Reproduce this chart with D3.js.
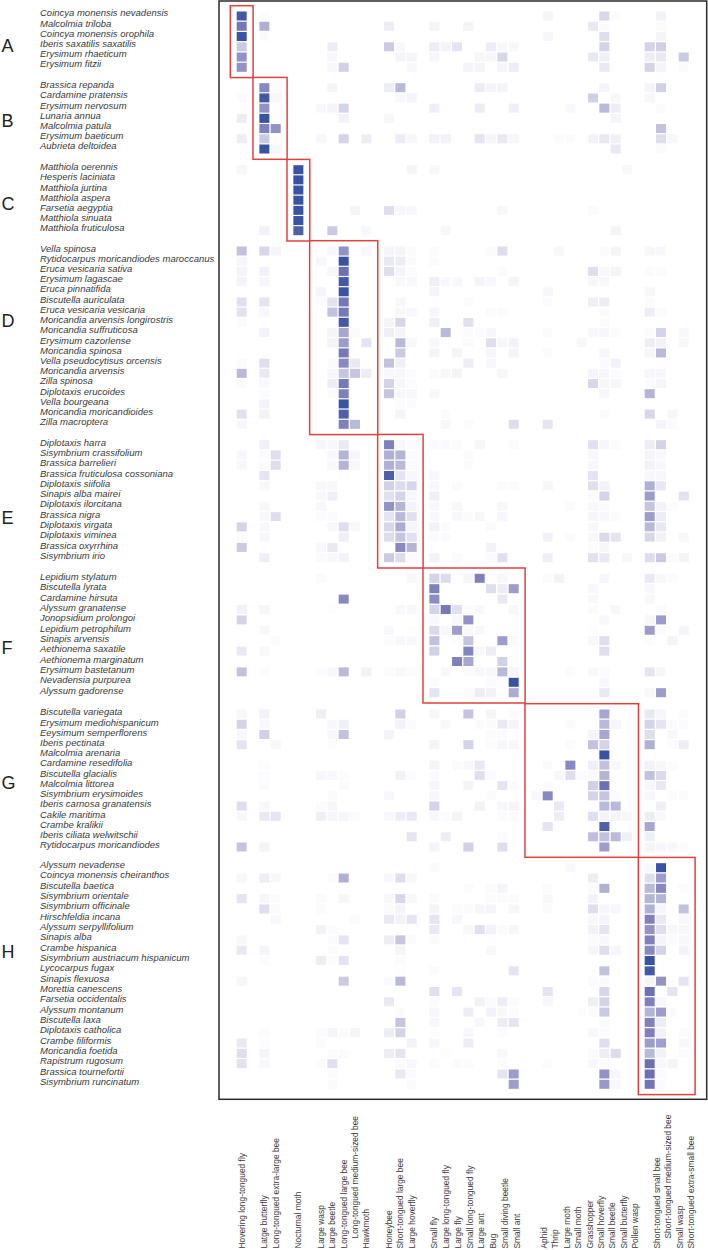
<!DOCTYPE html>
<html><head><meta charset="utf-8">
<script src="https://cdnjs.cloudflare.com/ajax/libs/d3/7.8.5/d3.min.js"></script>
<style>html,body{margin:0;padding:0;background:#fff}svg{display:block}text{font-family:"Liberation Sans",Arial,sans-serif}</style>
</head><body><div id="c"></div>
<script>
const pollinators = ["Hovering long-tongued fly","Latge butterfly","Long-tongued extra-large bee","Nocturnal moth","Large wasp","Large beetle","Long-tongued large bee","Long-tongued medium-sized bee","Hawkmoth","Honeybee","Short-tongued large bee","Large hoverfly","Small fly","Large long-tongued fly","Large fly","Small long-tongued fly","Large ant","Bug","Small diving beetle","Small ant","Aphid","Thrip","Large moth","Small moth","Grasshopper","Small hoverfly","Small beetle","Small butterfly","Pollen wasp","Short-tongued small bee","Short-tongued medium-sized bee","Small wasp","Short-tongued extra-small bee"];
const groupNames = ["A","B","C","D","E","F","G","H"];
const groupColumns = [[0,0],[1,2],[3,3],[4,8],[9,11],[12,19],[20,28],[29,32]];
const speciesA = ["Coincya monensis nevadensis","Malcolmia triloba","Coincya monensis orophila","Iberis saxatilis saxatilis","Erysimum rhaeticum","Erysimum fitzii"];
const speciesB = ["Brassica repanda","Cardamine pratensis","Erysimum nervosum","Lunaria annua","Malcolmia patula","Erysimum baeticum","Aubrieta deltoidea"];
const speciesC = ["Matthiola oerennis","Hesperis laciniata","Matthiola jurtina","Matthiola aspera","Farsetia aegyptia","Matthiola sinuata","Matthiola fruticulosa"];
const speciesD = ["Vella spinosa","Rytidocarpus moricandiodes maroccanus","Eruca vesicaria sativa","Erysimum lagascae","Eruca pinnatifida","Biscutella auriculata","Eruca vesicaria vesicaria","Moricandia arvensis longirostris","Moricandia suffruticosa","Erysimum cazorlense","Moricandia spinosa","Vella pseudocytisus orcensis","Moricandia arvensis","Zilla spinosa","Diplotaxis erucoides","Vella bourgeana","Moricandia moricandioides","Zilla macroptera"];
const speciesE = ["Diplotaxis harra","Sisymbrium crassifolium","Brassica barrelieri","Brassica fruticulosa cossoniana","Diplotaxis siifolia","Sinapis alba mairei","Diplotaxis ilorcitana","Brassica nigra","Diplotaxis virgata","Diplotaxis viminea","Brassica oxyrrhina","Sisymbrium irio"];
const speciesF = ["Lepidium stylatum","Biscutella lyrata","Cardamine hirsuta","Alyssum granatense","Jonopsidium prolongoi","Lepidium petrophilum","Sinapis arvensis","Aethionema saxatile","Aethionema marginatum","Erysimum bastetanum","Nevadensia purpurea","Alyssum gadorense"];
const speciesG = ["Biscutella variegata","Erysimum mediohispanicum","Eeysimum semperflorens","Iberis pectinata","Malcolmia arenaria","Cardamine resedifolia","Biscutella glacialis","Malcolmia littorea","Sisymbrium erysimoides","Iberis carnosa granatensis","Cakile maritima","Crambe kralikii","Iberis ciliata welwitschii","Rytidocarpus moricandiodes"];
const speciesH = ["Alyssum nevadense","Coincya monensis cheiranthos","Biscutella baetica","Sisymbrium orientale","Sisymbrium officinale","Hirschfeldia incana","Alyssum serpyllifolium","Sinapis alba","Crambe hispanica","Sisymbrium austriacum hispanicum","Lycocarpus fugax","Sinapis flexuosa","Morettia canescens","Farsetia occidentalis","Alyssum montanum","Biscutella laxa","Diplotaxis catholica","Crambe filiformis","Moricandia foetida","Rapistrum rugosum","Brassica tournefortii","Sisymbrium runcinatum"];
// visit frequency (percent of colour ramp): {column index: value}
const valuesA = [
{0:95,1:2,21:4,26:18,27:2,30:6},
{0:70,1:40,9:8,12:5,15:5,25:10,26:2,30:2},
{0:100,1:2,21:4,26:15,30:5},
{0:25,5:8,9:25,10:3,12:8,13:5,14:12,17:8,18:3,19:3,26:20,29:20,30:22},
{0:55,5:3,10:5,11:5,12:4,16:4,17:4,18:18,25:10,26:7,29:8,30:10,32:25},
{0:55,5:3,6:22,11:3,15:5,16:5,18:5,19:8,26:10,29:20,30:5,32:2}];
const valuesB = [
{1:60,5:5,9:8,10:35,16:8,17:5,18:5,26:5,29:5,30:22},
{0:2,1:95,2:4,10:3,11:5,25:22,27:3,29:4},
{1:55,4:3,5:5,6:20,12:7,16:8,19:7,23:3,26:35,27:8,30:2},
{0:8,1:100,6:6,9:4,27:5},
{1:65,2:55,30:30},
{0:8,1:25,4:3,6:20,8:8,10:8,11:4,12:6,13:6,16:12,17:5,18:10,19:4,22:2,23:2,25:6,26:10,27:7,30:15,31:3},
{1:100,2:3,27:10,30:2}];
const valuesC = [
{0:4,3:100,11:5,12:3,28:3},
{3:100},
{3:100},
{3:100},
{3:100,7:5,9:15,10:4,11:3,18:3,25:2},
{3:100},
{1:6,3:90,5:25,8:3,13:3,27:5}];
const valuesD = [
{0:30,1:18,2:5,5:3,6:55,8:3,9:5,10:5,11:2,12:2,17:2,18:15,22:3,26:2,27:5,29:4,30:3},
{0:4,4:3,6:100,9:10,10:8,11:2,12:2},
{0:5,1:6,5:4,6:75,9:15,10:5,11:2,18:2,25:15,26:3,27:5,29:2,30:2},
{0:5,1:4,6:95,10:3,11:3,12:7,13:3,14:3,16:5,17:3,19:5,25:3,26:3},
{4:5,6:100,12:5,21:4,29:4},
{0:14,1:12,4:2,5:13,6:70,10:3,15:2,21:2,25:7,26:8,29:2},
{0:13,1:3,5:30,6:70,10:3,11:3,12:4,17:2,18:2,26:2,29:8,30:2},
{0:2,6:95,9:5,10:18,12:7,15:14,26:2},
{1:6,5:5,6:45,7:2,9:7,10:5,13:35,15:2,16:2,17:4,21:2,25:3,26:4,27:2,29:2,30:20,32:3},
{5:5,6:50,8:12,10:35,11:3,12:3,15:2,17:15,18:4,19:6,24:3,29:8,30:6,32:3},
{6:70,10:25,12:5,14:5,17:4,19:5,21:2,26:4,29:4,30:35},
{0:2,1:15,5:2,6:60,7:10,9:30,10:7,15:8,17:3,26:2,27:6},
{0:35,1:10,5:4,6:28,7:28,8:8,9:3,10:3,11:2,12:2,13:3,14:5,18:4,25:5,26:4,27:2,29:4,30:4},
{0:2,1:3,5:8,6:70,9:20,10:4,11:2,25:18,26:4,27:4,29:2,30:5},
{1:2,5:2,6:65,9:28,10:3,11:3,12:3,26:4,29:38},
{1:6,6:100,10:2,11:2},
{0:14,1:6,6:88,10:5,13:2,26:2,29:18,31:4},
{0:3,6:65,7:35,13:3,15:2,19:15,21:12,30:5,31:2}];
const valuesE = [
{1:7,4:4,5:3,6:10,9:65,10:3,11:2,12:2,13:2,14:2,16:4,19:2,25:14,26:4,27:2,29:8,30:20},
{0:3,1:2,2:15,5:3,6:38,7:4,9:40,10:38,11:2,15:2,25:3,29:5,30:3},
{0:3,1:2,2:15,5:3,6:38,7:3,9:40,10:35,11:2,15:2,25:3,29:6,30:3},
{1:12,6:1,9:90,10:12,11:3,12:3,25:12,29:3,30:3},
{1:3,4:3,5:3,9:22,10:16,11:18,12:3,14:2,18:2,19:2,21:4,25:14,26:6,29:40,30:10},
{4:3,5:7,9:14,10:20,11:4,12:7,25:2,26:20,29:50,32:13},
{1:3,4:3,9:55,10:38,11:6,12:3,14:3,18:3,23:2,25:3,26:2,29:28,30:6,31:2},
{1:3,2:15,4:2,5:2,9:12,10:35,11:14,12:3,14:3,15:2,16:3,18:4,25:4,26:3,27:2,29:50,30:8},
{0:20,1:3,5:3,6:15,7:3,9:18,10:42,11:5,12:6,13:2,17:2,25:3,29:35,30:10},
{0:2,1:4,6:7,9:16,10:28,11:14,12:2,13:2,21:6,23:2,25:3,26:17,27:12,29:18,30:6,32:3},
{0:25,4:3,5:10,10:60,11:38,17:6,25:2,26:4},
{1:7,4:2,5:3,6:6,9:25,10:16,11:2,12:6,14:2,17:2,18:14,21:7,25:14,26:10,28:3,29:15,30:25,31:2,32:5}];
const valuesF = [
{4:2,11:3,12:20,13:16,15:4,16:65,18:3,21:2,22:6,26:4,29:10,30:3,31:2},
{12:65,17:15,18:8,19:50,25:3,29:3},
{6:60,12:58,18:10,25:3,29:3},
{0:6,1:4,5:1,10:3,11:4,12:20,13:70,14:14,15:2,16:3,19:3,25:2,27:3,30:2},
{0:20,12:3,14:3,15:55,26:3,29:4,30:50},
{1:3,9:3,11:1,12:17,13:3,14:50,15:3,16:3,25:1,29:50,30:2,32:5},
{2:2,9:2,10:3,11:3,12:30,14:2,15:28,18:50,19:2,25:3,26:15,29:2,31:5},
{0:10,1:3,12:22,15:62,16:3,17:8,26:15},
{14:65,15:45,18:22},
{0:30,1:2,4:2,5:3,6:35,8:6,9:2,10:4,11:2,13:3,15:2,16:3,17:3,18:35,19:4,23:2,25:3,26:2,29:12,30:4},
{12:2,17:2,19:100,26:3},
{12:12,15:2,16:8,17:6,19:42,26:10,29:3,30:50}];
const valuesG = [
{0:3,1:6,4:7,10:22,12:4,15:28,17:5,19:2,26:45,29:10,30:4,32:2},
{0:20,1:3,5:3,6:7,10:6,11:2,13:3,16:2,17:2,18:10,19:5,23:2,26:35,27:4,29:20,30:12,31:2,32:2},
{0:3,1:22,5:3,6:30,9:5,17:2,18:2,25:5,26:45,29:15,31:3},
{0:12,2:3,5:2,12:5,15:20,17:2,18:3,19:3,23:2,25:30,26:20,29:40,31:2,32:8},
{26:100},
{1:2,12:5,14:2,15:3,16:10,21:2,23:60,25:7,26:30,27:3,29:6,30:4,31:2},
{1:2,4:3,5:3,6:2,10:6,11:2,12:2,16:14,17:2,22:3,23:15,24:2,25:2,26:38,29:30,30:17},
{1:2,6:2,12:4,15:5,18:12,19:2,21:2,25:22,26:75,29:4,30:10},
{5:2,9:3,12:4,17:2,20:3,21:60,25:20,26:28,27:2,29:4,31:2,32:2},
{0:15,1:3,4:2,5:4,12:20,16:6,18:4,19:5,22:10,26:35,27:35,30:7},
{0:3,1:10,2:12,4:7,5:4,6:4,7:2,9:3,10:8,11:10,12:3,13:2,14:5,18:2,19:2,22:8,25:15,26:5,27:5,28:3,29:8,30:3},
{21:12,26:90,29:45},
{11:12,13:8,18:2,25:32,26:30,27:35,28:7,29:7},
{0:28,1:5,12:5,15:22,18:15,26:50,29:5,30:4,31:3,32:2}];
const valuesH = [
{12:2,23:3,29:3,30:100},
{0:3,1:8,2:3,5:2,6:40,9:3,10:15,11:3,25:8,29:15,30:50},
{15:2,17:2,18:5,21:2,25:2,26:40,29:35,30:60,32:2},
{0:12,1:4,2:2,4:2,6:4,9:3,10:18,11:3,12:2,17:2,18:2,19:2,21:3,25:6,29:38,30:38},
{1:15,2:2,4:2,9:2,10:5,12:5,14:2,15:2,16:4,17:5,19:4,21:2,25:15,26:4,27:3,29:40,30:4,32:30},
{2:3,7:2,9:10,10:6,11:12,12:12,14:4,25:3,26:5,29:65,30:10,32:3},
{4:6,5:2,12:10,15:3,16:14,17:6,18:2,19:4,25:6,26:12,29:55,30:15,31:3,32:3},
{0:3,5:2,6:12,9:8,10:28,11:2,12:2,25:2,26:3,29:65,30:5,31:2,32:3},
{0:10,1:5,5:2,10:5,17:3,25:4,26:15,27:4,29:60,30:20,32:6},
{1:2,4:8,5:2,6:12,10:2,29:100},
{10:1,12:2,19:12,26:30,29:95},
{0:4,6:25,9:2,10:35,25:2,26:2,29:5,30:55,32:12},
{12:14,14:12,21:12,26:18,29:75,31:12},
{9:10,12:2,16:6,17:2,18:8,19:2,21:4,25:7,26:20,29:65,30:3},
{10:2,12:4,15:8,17:6,18:3,19:2,24:1,25:2,26:25,29:38,30:50,31:2},
{10:28,12:3,16:3,18:8,19:12,26:2,29:65,30:8},
{1:2,4:2,5:5,6:2,7:5,9:8,10:20,12:1,15:3,18:2,25:3,26:2,29:65,30:6,32:2},
{0:10,1:2,4:2,11:6,12:4,15:8,26:15,29:50,30:48,32:3},
{0:15,1:5,5:2,6:2,9:8,10:12,13:1,18:3,25:2,26:8,27:16,29:35,30:6,32:2},
{0:13,1:3,4:2,5:14,10:2,11:3,12:2,14:2,15:2,18:2,21:2,25:3,26:2,29:75,30:3,31:5},
{5:2,10:10,11:2,18:12,19:50,26:55,27:3,29:75,30:2},
{5:2,11:2,19:50,26:52,27:3,29:72,30:2}];

const species=[speciesA,speciesB,speciesC,speciesD,speciesE,speciesF,speciesG,speciesH];
const values=[valuesA,valuesB,valuesC,valuesD,valuesE,valuesF,valuesG,valuesH];

// layout
const W=708,H=1250;
const firstRowY=[16,87.7,169.7,251,444.7,578.3,714,867.7], lastRowY=[67.3,149,230.7,424.3,557.7,692.7,847,1084.3];
const labelFirstY=[13,84.8,166.8,248.3,442.5,576.8,712,864.8], labelLastY=[64,146,228,422,555.5,690.5,845,1081.8];
const letterY=[46,121,204,321,518,648,783,952];
// column slots: gaps separate the pollinator functional groups
const slots=[0,2,3,5,7,8,9,10,11,13,14,15,17,18,19,20,21,22,23,24,26,27,28,29,30,31,32,33,34,36,37,38,39];
const x=d3.scaleLinear().domain([0,39]).range([241.7,683.7]);
const labelX=d3.scaleLinear().domain([0,17,24,26,34,36,39]).range([241.7,434.3,516.7,544,635,656.7,691]);
const color=d3.scaleLinear().domain([0,8,20,40,60,80,100]).range(["#ffffff","#ededf6","#d3d3e9","#b0b0d7","#8888c2","#6269b2","#3953a4"]);
const cw=10,ch=9,padX=11.4,padY=10.3;

const svg=d3.select("#c").append("svg").attr("width",W).attr("height",H);
// frame
svg.append("rect").attr("x",219).attr("y",1).attr("width",487.7).attr("height",1098.3).attr("fill","#fff").attr("stroke","#2a2a2a").attr("stroke-width",1.5);

species.forEach((names,g)=>{
  const y=d3.scalePoint().domain(d3.range(names.length)).range([firstRowY[g],lastRowY[g]]);
  const ly=d3.scalePoint().domain(d3.range(names.length)).range([labelFirstY[g],labelLastY[g]]);
  const cells=values[g].flatMap((row,r)=>Object.entries(row).map(([c,v])=>({r,c:+c,v})));
  svg.append("g").selectAll("rect").data(cells).join("rect")
    .attr("x",d=>x(slots[d.c])-cw/2).attr("y",d=>y(d.r)-ch/2)
    .attr("width",cw).attr("height",ch).attr("fill",d=>color(d.v));
  svg.append("g").selectAll("text").data(names).join("text")
    .attr("x",40).attr("y",(d,i)=>ly(i)).attr("dy","0.35em")
    .attr("font-size",9.5).attr("font-style","italic").attr("fill","#3a3a3a").text(d=>d);
  svg.append("text").attr("x",1.5).attr("y",letterY[g]).attr("dy","0.36em")
    .attr("font-size",18).attr("fill","#222").text(groupNames[g]);
});
// cluster outlines
groupColumns.forEach(([c0,c1],g)=>{
  const x0=x(slots[c0])-padX,x1=x(slots[c1])+padX,y0=firstRowY[g]-padY,y1=lastRowY[g]+padY;
  svg.append("rect").attr("x",x0).attr("y",y0).attr("width",x1-x0).attr("height",y1-y0)
    .attr("fill","none").attr("stroke","#e2413f").attr("stroke-width",1.5);
});
// pollinator labels
svg.append("g").selectAll("text").data(pollinators).join("text")
  .attr("transform",(d,i)=>`translate(${labelX(slots[i])+3},${d.includes("medium-sized")?1238.5:1248.5}) rotate(-90)`)
  .attr("font-size",8.4).attr("fill","#3a3a3a").text(d=>d);
</script></body></html>
